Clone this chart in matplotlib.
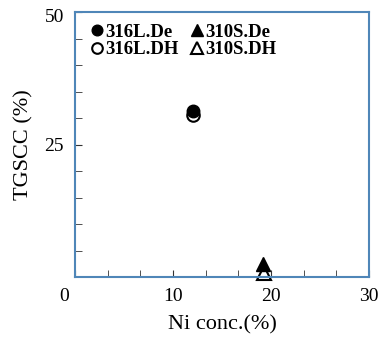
import matplotlib
matplotlib.use('Agg')
import matplotlib.pyplot as plt
from matplotlib.ticker import MultipleLocator
from matplotlib.transforms import ScaledTranslation

# data
ni_316 = [12.0]
tg_316_de = [31.4]
tg_316_dh = [30.6]
ni_310_de = [19.2]
ni_310_dh = [19.3]
tg_310_de = [2.4]
tg_310_dh = [0.7]

plt.rcParams['font.family'] = ['Liberation Serif', 'DejaVu Serif']

fig = plt.figure(figsize=(3.85, 3.39), dpi=100)
ax = fig.add_axes([75/385, 1-277/339, (369-75)/385, (277-12)/339])

ax.plot(ni_316, tg_316_de, 'o', color='black', ms=9, label='316L.De')
ax.plot(ni_316, tg_316_dh, 'o', mfc='white', mec='black', mew=1.5, ms=9, label='316L.DH', zorder=1.9)
ax.plot(ni_310_de, tg_310_de, '^', color='black', ms=10, label='310S.De')
ax.plot(ni_310_dh, tg_310_dh, '^', mfc='white', mec='black', mew=1.5, ms=10, label='310S.DH',
        clip_on=False, zorder=1.9)

ax.set_xlim(0, 30)
ax.set_ylim(0, 50)
ax.xaxis.set_minor_locator(MultipleLocator(10/3))
ax.yaxis.set_minor_locator(MultipleLocator(5))
ax.set_xticks([0, 10, 20, 30])
ax.set_yticks([25, 50])
ax.tick_params(which='both', direction='in', length=5, color='#333333', labelsize=14, pad=8)
lbl0 = ax.get_xticklabels()[0]
lbl0.set_transform(lbl0.get_transform() + ScaledTranslation(-11/100, 0, fig.dpi_scale_trans))
lbl50 = ax.get_yticklabels()[-1]
lbl50.set_transform(lbl50.get_transform() + ScaledTranslation(0, -4/100, fig.dpi_scale_trans))

for s in ax.spines.values():
    s.set_color('#4f86b8')
    s.set_linewidth(1.5)

ax.set_xlabel('Ni conc.(%)', fontsize=16, labelpad=7)
ax.set_ylabel('TGSCC (%)', fontsize=16, labelpad=8)

ax.legend(ncol=2, loc='upper left', frameon=False,
          prop={'weight': 'bold', 'size': 13.5}, handletextpad=0.0, columnspacing=0.55,
          handlelength=0.9, labelspacing=0.0, markerscale=0.85,
          borderaxespad=0.0, borderpad=0.0, bbox_to_anchor=(0.045, 0.955))

fig.savefig('out.png', dpi=100)
